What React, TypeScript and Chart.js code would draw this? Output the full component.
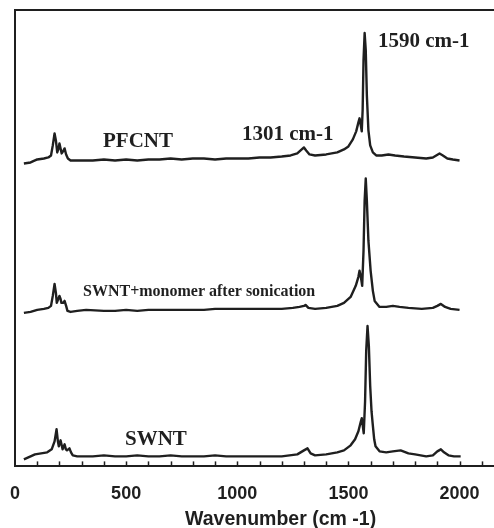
import React, { useEffect, useRef } from 'react';
import { Chart, registerables } from 'chart.js';

Chart.register(...registerables);

// ---- Data (Raman shift in cm-1, intensity in arbitrary offset units) ----
const pfcntWavenumber = [40, 70, 100, 130, 150, 162, 170, 178, 184, 190, 196, 200, 205, 210, 216, 223, 230, 238, 250, 290, 350, 400, 450, 500, 550, 600, 650, 700, 750, 800, 850, 900, 950, 1000, 1050, 1100, 1150, 1200, 1240, 1270, 1290, 1300, 1310, 1325, 1350, 1400, 1450, 1480, 1500, 1520, 1535, 1545, 1550, 1555, 1560, 1564, 1568, 1573, 1578, 1583, 1590, 1598, 1610, 1625, 1650, 1680, 1710, 1750, 1800, 1850, 1880, 1895, 1910, 1925, 1945, 1970, 2000];
const pfcntIntensity = [302, 303, 306, 307, 308, 310, 320, 332, 325, 313, 317, 322, 317, 312, 314, 317, 311, 307, 305, 305, 305, 306, 305, 306, 305, 306, 306, 307, 306, 307, 307, 306, 307, 307, 307, 308, 308, 309, 310, 312, 316, 318, 315, 311, 310, 311, 313, 316, 319, 326, 334, 343, 347, 341, 334, 355, 405, 432, 415, 370, 335, 320, 313, 310, 310, 311, 310, 309, 308, 307, 308, 310, 312, 310, 307, 306, 305];

const monomerWavenumber = [40, 70, 100, 130, 150, 162, 170, 178, 184, 188, 195, 200, 205, 209, 216, 223, 230, 236, 250, 280, 320, 400, 450, 500, 550, 600, 650, 700, 750, 800, 850, 900, 950, 1000, 1050, 1100, 1150, 1200, 1250, 1280, 1300, 1307, 1320, 1350, 1400, 1450, 1480, 1510, 1533, 1545, 1550, 1556, 1562, 1568, 1573, 1578, 1583, 1590, 1600, 1610, 1618, 1640, 1670, 1700, 1730, 1770, 1830, 1880, 1900, 1916, 1935, 1960, 2000];
const monomerIntensity = [153, 154, 156, 157, 158, 160, 170, 182, 173, 163, 167, 170, 167, 163, 163, 165, 160, 155, 154, 155, 156, 155, 155, 156, 155, 156, 156, 156, 156, 156, 156, 157, 157, 157, 157, 157, 157, 157, 158, 159, 160, 161, 158, 157, 158, 160, 163, 169, 180, 189, 195, 189, 180, 215, 265, 287, 265, 225, 195, 175, 165, 159, 159, 160, 159, 158, 157, 158, 160, 162, 159, 157, 156];

const swntWavenumber = [40, 90, 145, 165, 178, 187, 193, 197, 205, 210, 214, 223, 229, 234, 245, 252, 260, 280, 350, 400, 450, 500, 550, 600, 650, 700, 750, 800, 850, 900, 950, 1000, 1050, 1100, 1150, 1200, 1270, 1300, 1316, 1330, 1350, 1400, 1450, 1480, 1510, 1530, 1545, 1555, 1560, 1565, 1569, 1575, 1580, 1586, 1592, 1598, 1604, 1609, 1616, 1622, 1640, 1670, 1700, 1735, 1770, 1800, 1850, 1880, 1900, 1916, 1930, 1950, 1975, 2005];
const swntIntensity = [7, 12, 14, 17, 25, 37, 25, 20, 26, 21, 17, 22, 17, 16, 18, 14, 11, 10, 10, 11, 10, 10, 11, 10, 10, 11, 10, 10, 10, 11, 10, 10, 10, 10, 10, 10, 12, 16, 18, 13, 11, 12, 14, 16, 21, 27, 35, 44, 48, 40, 33, 65, 115, 140, 120, 80, 55, 43, 27, 20, 15, 14, 15, 16, 13, 12, 10, 11, 15, 17, 14, 11, 10, 10];

const xTickValues = [0, 500, 1000, 1500, 2000];
const xAxisTitle = 'Wavenumber (cm -1)';

const labelTexts = ['1590 cm-1', '1301 cm-1', 'PFCNT', 'SWNT+monomer after sonication', 'SWNT'];
const labelWavenumbers = [1633, 1021, 396, 306, 495];
const labelIntensities = [418, 325, 318, 170, 21];
const labelSizes = [21, 21, 21, 16, 21];

const toPoints = (xs: number[], ys: number[]) => xs.map((x, i) => ({ x, y: ys[i] }));

const INK = '#1f1f1f';

const framePlugin = {
  id: 'frameAndTicks',
  afterDraw(chart: any) {
    const { ctx, chartArea, scales } = chart;
    const xs = scales.x;
    const ys = scales.y;
    ctx.save();
    ctx.strokeStyle = INK;
    // top + left frame
    ctx.lineWidth = 2;
    ctx.beginPath();
    ctx.moveTo(chartArea.left, chartArea.bottom);
    ctx.lineTo(chartArea.left, chartArea.top);
    ctx.lineTo(chartArea.right, chartArea.top);
    ctx.stroke();
    // inward tick marks every 100
    ctx.lineWidth = 1.5;
    for (let v = 100; v <= xs.max; v += 100) {
      const px = Math.round(xs.getPixelForValue(v)) + 0.5;
      ctx.beginPath();
      ctx.moveTo(px, chartArea.bottom);
      ctx.lineTo(px, chartArea.bottom - 5);
      ctx.stroke();
    }
    // annotations
    ctx.fillStyle = INK;
    ctx.textBaseline = 'alphabetic';
    ctx.textAlign = 'left';
    labelTexts.forEach((t, i) => {
      ctx.font = `bold ${labelSizes[i]}px "Liberation Serif", "Times New Roman", serif`;
      ctx.fillText(t, xs.getPixelForValue(labelWavenumbers[i]), ys.getPixelForValue(labelIntensities[i]));
    });
    // axis title
    ctx.font = 'bold 19.5px "Liberation Sans", Arial, sans-serif';
    ctx.textAlign = 'center';
    ctx.fillText(xAxisTitle, xs.getPixelForValue(1195), chartArea.bottom + 59);
    ctx.restore();
  },
};

export default function App() {
  const ref = useRef<HTMLCanvasElement | null>(null);
  useEffect(() => {
    if (!ref.current) return;
    const lineStyle = {
      borderColor: INK,
      borderWidth: 2.4,
      pointRadius: 0,
      tension: 0,
      fill: false,
      borderJoinStyle: 'round' as const,
    };
    const chart = new Chart(ref.current, {
      type: 'line',
      data: {
        datasets: [
          { label: 'PFCNT', data: toPoints(pfcntWavenumber, pfcntIntensity), ...lineStyle },
          { label: 'SWNT+monomer after sonication', data: toPoints(monomerWavenumber, monomerIntensity), ...lineStyle },
          { label: 'SWNT', data: toPoints(swntWavenumber, swntIntensity), ...lineStyle },
        ],
      },
      options: {
        animation: false,
        responsive: false,
        devicePixelRatio: 1,
        layout: { padding: { left: 15, top: 10, right: 0, bottom: 6 } },
        plugins: { legend: { display: false }, tooltip: { enabled: false }, title: { display: false } },
        scales: {
          x: {
            type: 'linear',
            min: 0,
            max: 2155,
            grid: { display: false, drawTicks: false },
            border: { display: true, color: INK, width: 2 },
            afterBuildTicks: (axis: any) => {
              axis.ticks = xTickValues.map((v) => ({ value: v }));
            },
            afterFit: (axis: any) => {
              axis.paddingLeft = 0;
              axis.paddingRight = 0;
            },
            ticks: {
              autoSkip: false,
              maxRotation: 0,
              padding: 17,
              color: INK,
              callback: (v: any) => String(v),
              font: { family: '"Liberation Sans", Arial, sans-serif', size: 18, weight: 'bold' },
            },
          },
          y: {
            type: 'linear',
            min: 0,
            max: 455,
            display: false,
          },
        },
      },
      plugins: [framePlugin],
    });
    return () => chart.destroy();
  }, []);
  return (
    <div style={{ position: 'fixed', left: 0, top: 0, width: 494, height: 528 }}>
      <canvas ref={ref} width={494} height={528} style={{ width: 494, height: 528, display: 'block' }} />
    </div>
  );
}
